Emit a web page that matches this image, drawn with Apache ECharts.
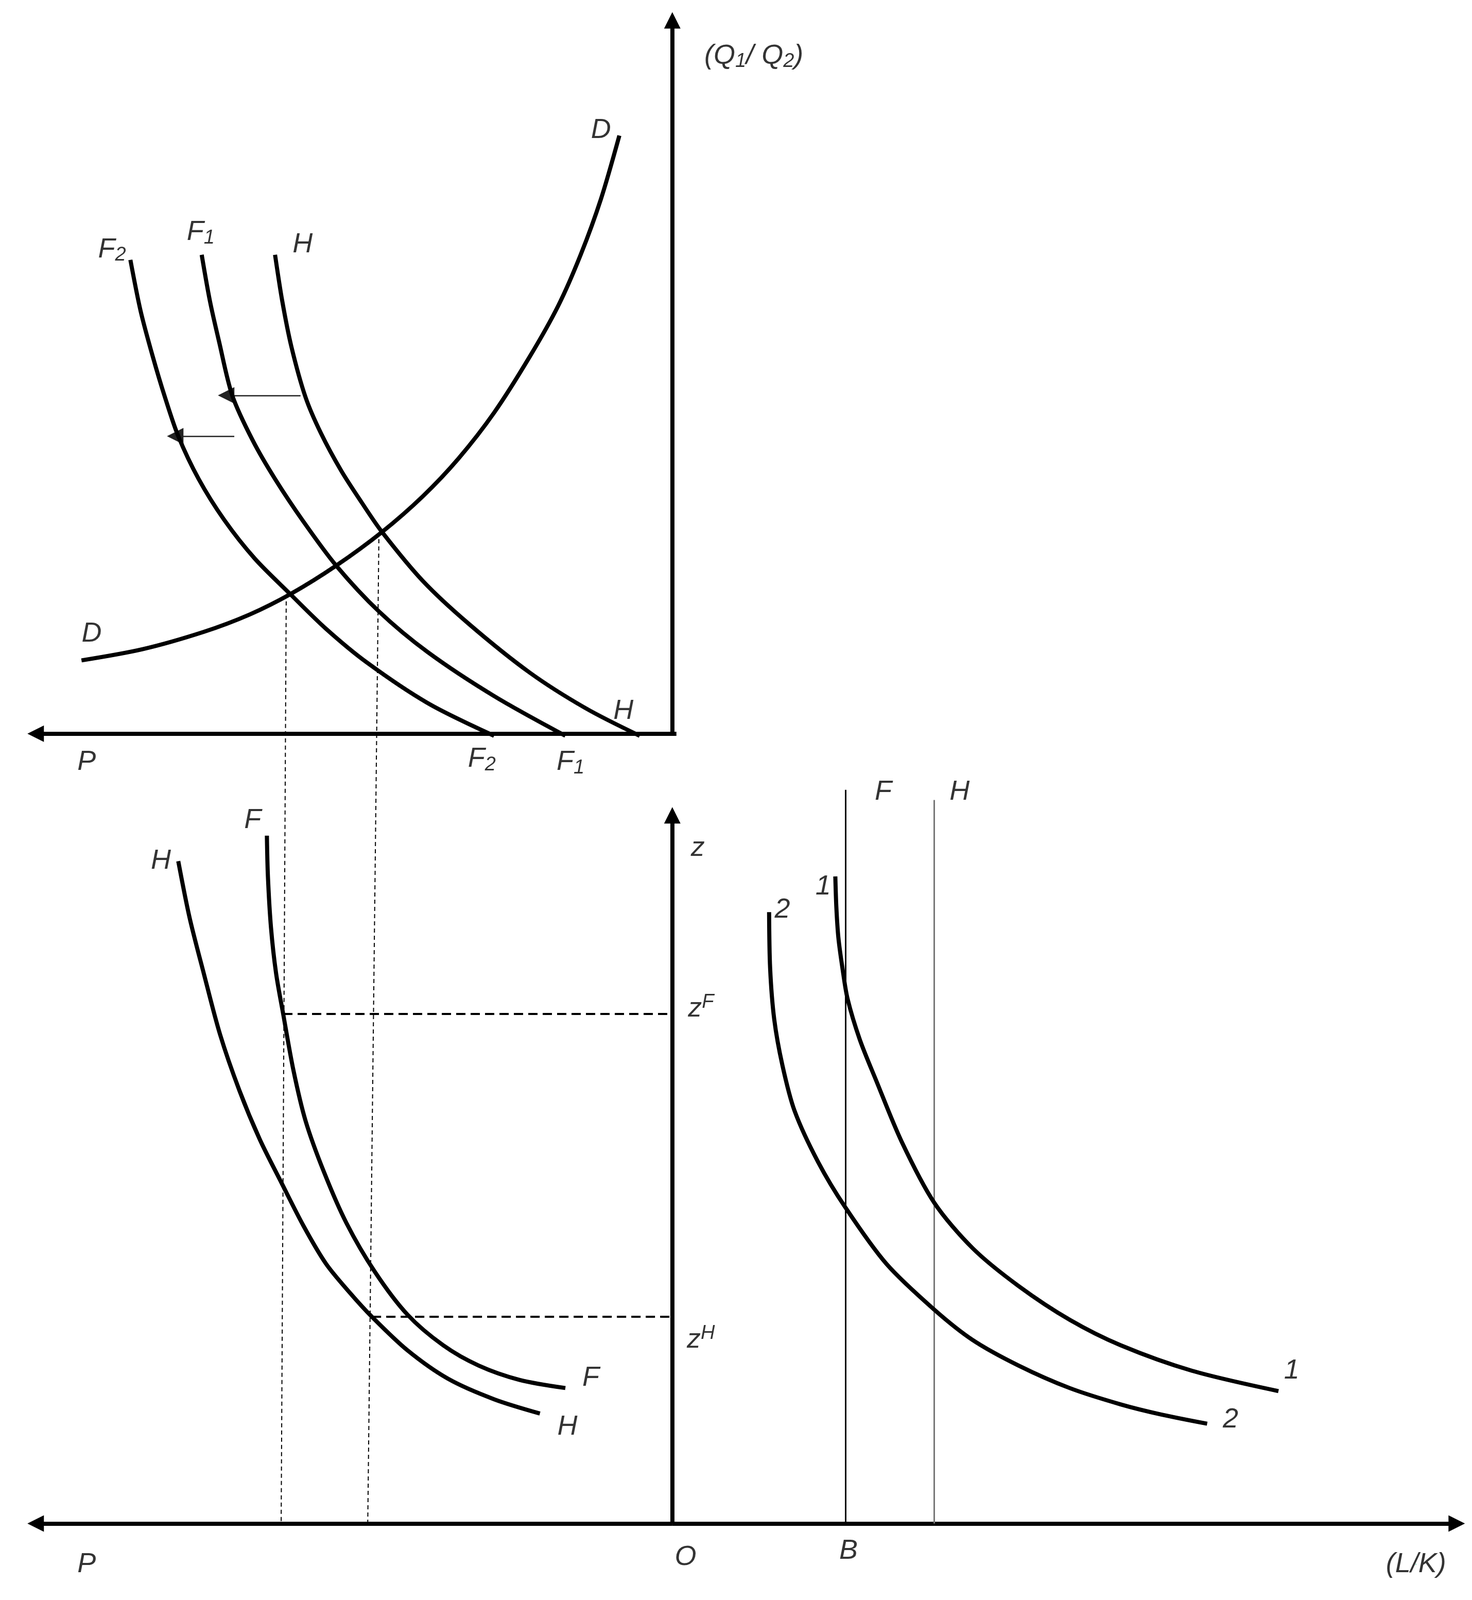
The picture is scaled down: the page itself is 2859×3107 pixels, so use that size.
<!DOCTYPE html>
<html><head><meta charset="utf-8">
<script src="https://cdn.jsdelivr.net/npm/echarts@6/dist/echarts.min.js"></script>
<style>html,body{margin:0;background:#fff}#c{width:2859px;height:3107px}</style></head>
<body><div id="c"></div>
<script>
// Curves (diagram units; x right, y down)
const curveD  = [[80,648],[140,637],[200,620],[245,603],[285,583],[330,555],[375,522],[415,487],[450,450],[485,405],[520,350],[548,300],[570,250],[590,195],[608,133]];
const curveF2 = [[128,255],[138,305],[150,350],[162,390],[175,428],[195,470],[220,510],[250,548],[285,583],[320,617],[360,650],[420,690],[485,722]];
const curveF1 = [[198,250],[206,295],[215,335],[228,388],[248,432],[270,470],[298,512],[330,555],[372,600],[420,640],[485,683],[555,722]];
const curveHt = [[270,250],[277,295],[286,340],[300,390],[315,425],[335,462],[355,493],[375,522],[415,570],[460,612],[520,660],[575,695],[628,722]];
const curveFb = [[262,820],[263,860],[266,910],[271,955],[278,995],[288,1050],[300,1100],[318,1150],[340,1200],[368,1248],[400,1290],[435,1320],[470,1340],[510,1354],[555,1362]];
const curveHb = [[175,845],[186,900],[200,955],[216,1015],[235,1070],[255,1118],[276,1160],[298,1203],[320,1240],[343,1268],[365,1292],[400,1325],[440,1353],[485,1373],[530,1387]];
const curve1  = [[820,860],[821,890],[823,920],[827,950],[832,980],[844,1020],[860,1060],[885,1120],[917,1180],[955,1225],[1000,1262],[1050,1295],[1100,1320],[1170,1345],[1255,1365]];
const curve2  = [[755,895],[756,950],[760,1000],[768,1045],[780,1090],[803,1140],[830,1185],[870,1240],[917,1285],[955,1315],[1000,1340],[1050,1362],[1100,1378],[1140,1388],[1185,1397]];
// axes with arrows [from, to]
const axesArrows = [[[660,720],[660,20]],[[664,720],[35,720]],[[660,1495],[660,800]],[[660,1495],[35,1495]],[[660,1495],[1430,1495]]];
const shiftArrows = [[[295,388],[222,388]],[[230,428],[172,428]]];
const dashedThin = [[[281,583],[276,1495]],[[372,522],[361,1495]]];
const dashedZ = [[[278,995],[660,995]],[[365,1292],[660,1292]]];
const vertB = [[[830,775],[830,1495]]];
const vertH = [[[917,785],[917,1495]]];
const labels = [
 ['(Q{s|1}/ Q{s|2})',740,55],['P',85,748],['D',590,128],['D',90,622],
 ['F{s|2}',110,245],['F{s|1}',197,228],['H',297,240],['H',612,698],
 ['F{s|2}',473,745],['F{s|1}',560,748],
 ['z',685,832],['z{p|F}',688,990],['z{p|H}',688,1315],
 ['F',248,805],['H',158,845],['F',580,1352],['H',557,1400],
 ['F',867,777],['H',942,777],['1',808,870],['2',768,893],['1',1268,1345],['2',1208,1393],
 ['P',85,1535],['O',673,1528],['B',833,1522],['(L/K)',1390,1535]
];
const K=8, T=3;
function curve(d){return {type:'line',data:d,smooth:0.3,symbol:'none',lineStyle:{color:'#000',width:K,cap:'butt'}};}
function segs(d,opt){return Object.assign({type:'lines',coordinateSystem:'cartesian2d',data:d.map(c=>({coords:c}))},opt);}
const chart=echarts.init(document.getElementById('c'));
chart.setOption({
 animation:false,
 grid:{left:0,right:0,top:0,bottom:0},
 xAxis:{type:'value',min:0,max:1445,show:false},
 yAxis:{type:'value',min:0,max:1570,inverse:true,show:false},
 series:[
  curve(curveD),curve(curveF2),curve(curveF1),curve(curveHt),
  curve(curveFb),curve(curveHb),curve(curve1),curve(curve2),
  segs(axesArrows,{symbol:['none','triangle'],symbolSize:[22,32],lineStyle:{color:'#000',width:K,opacity:1,curveness:0}}),
  segs(shiftArrows,{symbol:['none','triangle'],symbolSize:[24,32],lineStyle:{color:'#222',width:2.5,opacity:1}}),
  segs(dashedThin,{symbol:'none',lineStyle:{color:'#000',width:2,type:[8,6],opacity:1}}),
  segs(dashedZ,{symbol:'none',lineStyle:{color:'#000',width:4,type:[18,10],opacity:1}}),
  segs(vertB,{symbol:'none',lineStyle:{color:'#000',width:T,opacity:1}}),
  segs(vertH,{symbol:'none',lineStyle:{color:'#777',width:T,opacity:1}}),
  {type:'scatter',symbolSize:0,data:labels.map(l=>({value:[l[1],l[2]],name:l[0]})),
   label:{show:true,position:'inside',formatter:p=>p.name,fontFamily:'Liberation Sans',fontStyle:'italic',fontSize:54,color:'#000',
     rich:{s:{fontSize:38,fontStyle:'italic',fontFamily:'Liberation Sans',color:'#000',verticalAlign:'bottom',padding:[22,0,0,0]},
           p:{fontSize:38,fontStyle:'italic',fontFamily:'Liberation Sans',color:'#000',verticalAlign:'top',padding:[0,0,26,0]}}}}
 ]
});
</script></body></html>
